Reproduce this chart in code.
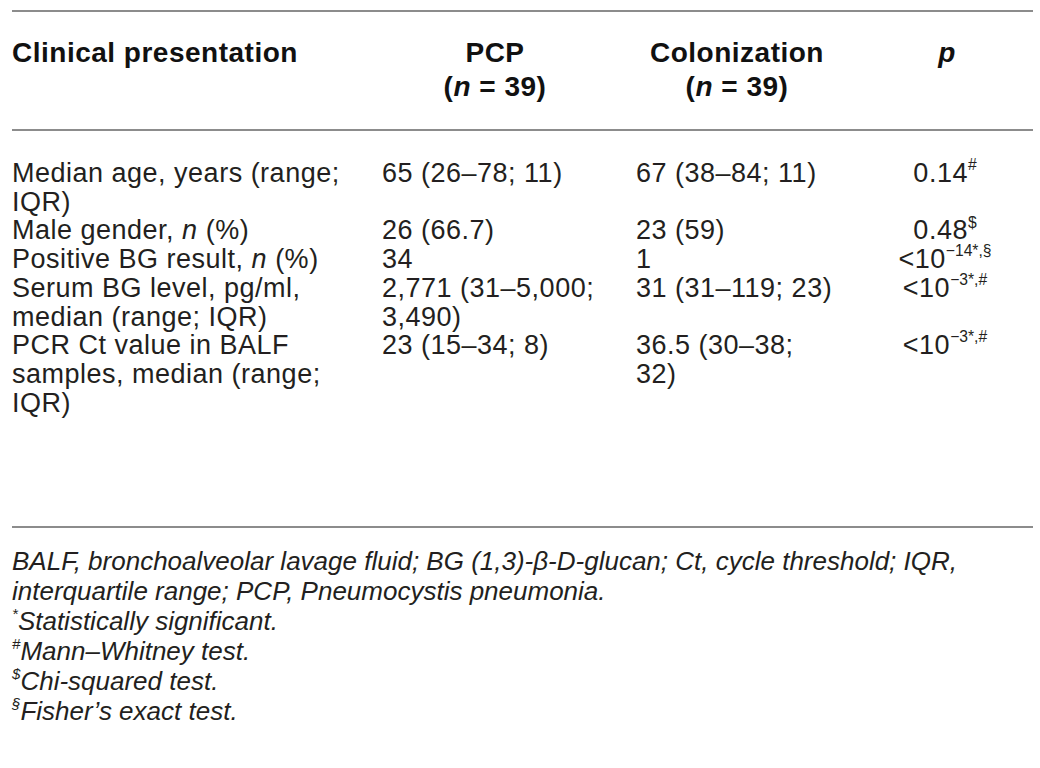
<!DOCTYPE html>
<html>
<head>
<meta charset="utf-8">
<script src="https://cdn.jsdelivr.net/npm/chart.js@4"></script>
<style>
  html, body { margin: 0; padding: 0; background: #fff; }
  body { width: 1040px; height: 768px; position: relative; overflow: hidden;
         font-family: "Liberation Sans", Arial, sans-serif; color: #231f20; }
  .rule { position: absolute; left: 12px; width: 1021px; height: 2px; background: #8c8c8c; }
  .cell { position: absolute; font-size: 27px; line-height: 28.7px; letter-spacing: 0.5px; white-space: nowrap; }
  .head { font-size: 28px; font-weight: bold; color: #111; line-height: 34px; letter-spacing: 0.5px; text-align: center; }
  .head.left { text-align: left; }
  .pv { text-align: center; width: 200px; }
  .foot { position: absolute; left: 12px; font-size: 26px; line-height: 30px; font-style: italic; white-space: nowrap; }
  sup { font-size: 58%; line-height: 0; vertical-align: 0; position: relative; top: -0.75em; letter-spacing: 0; }
</style>
</head>
<body>
<div id="table"></div>
<script>
// header labels
const headers = [
  ['Clinical presentation'],
  ['PCP', '(<i>n</i> = 39)'],
  ['Colonization', '(<i>n</i> = 39)'],
  ['<i>p</i>']
];

// row labels (line breaks as in the source)
const rowLabels = [
  ['Median age, years (range;', 'IQR)'],
  ['Male gender, <i>n</i> (%)'],
  ['Positive BG result, <i>n</i> (%)'],
  ['Serum BG level, pg/ml,', 'median (range; IQR)'],
  ['PCR Ct value in BALF', 'samples, median (range;', 'IQR)']
];

// PCP group values
const pcpValues = [
  ['65 (26–78; 11)'],
  ['26 (66.7)'],
  ['34'],
  ['2,771 (31–5,000;', '3,490)'],
  ['23 (15–34; 8)']
];

// colonization group values
const colonizationValues = [
  ['67 (38–84; 11)'],
  ['23 (59)'],
  ['1'],
  ['31 (31–119; 23)'],
  ['36.5 (30–38;', '32)']
];

// p values
const pValues = [
  '0.14<sup>#</sup>',
  '0.48<sup>$</sup>',
  '&lt;10<sup>−14*,§</sup>',
  '&lt;10<sup>−3*,#</sup>',
  '&lt;10<sup>−3*,#</sup>'
];

const footnotes = [
  'BALF, bronchoalveolar lavage fluid; BG (1,3)-β-D-glucan; Ct, cycle threshold; IQR,',
  'interquartile range; PCP, <i>Pneumocystis</i> pneumonia.',
  '<sup>*</sup>Statistically significant.',
  '<sup>#</sup>Mann–Whitney test.',
  '<sup>$</sup>Chi-squared test.',
  '<sup>§</sup>Fisher’s exact test.'
];

const root = document.getElementById('table');
function add(cls, html, style) {
  const d = document.createElement('div');
  d.className = cls;
  d.innerHTML = html;
  Object.assign(d.style, style);
  root.appendChild(d);
  return d;
}

// rules
[10, 129, 526].forEach(y => add('rule', '', { top: y + 'px' }));

// header
const headTop = 36;
add('cell head left', headers[0].join('<br>'), { left: '12px', top: headTop + 'px' });
add('cell head', headers[1].join('<br>'), { left: '395px', width: '200px', top: headTop + 'px' });
add('cell head', headers[2].join('<br>'), { left: '637px', width: '200px', top: headTop + 'px' });
add('cell head', headers[3].join('<br>'), { left: '847px', width: '200px', top: headTop + 'px' });

// body rows
const lineH = 28.7;
let y = 159;
rowLabels.forEach((lab, i) => {
  const n = Math.max(lab.length, pcpValues[i].length, colonizationValues[i].length);
  add('cell', lab.join('<br>'), { left: '12px', top: y + 'px' });
  add('cell', pcpValues[i].join('<br>'), { left: '382px', top: y + 'px' });
  add('cell', colonizationValues[i].join('<br>'), { left: '636px', top: y + 'px' });
  add('cell pv', pValues[i], { left: '845px', top: y + 'px' });
  y += n * lineH;
});

// footnotes
add('foot', footnotes.join('<br>'), { top: '546px' });
</script>
</body>
</html>
